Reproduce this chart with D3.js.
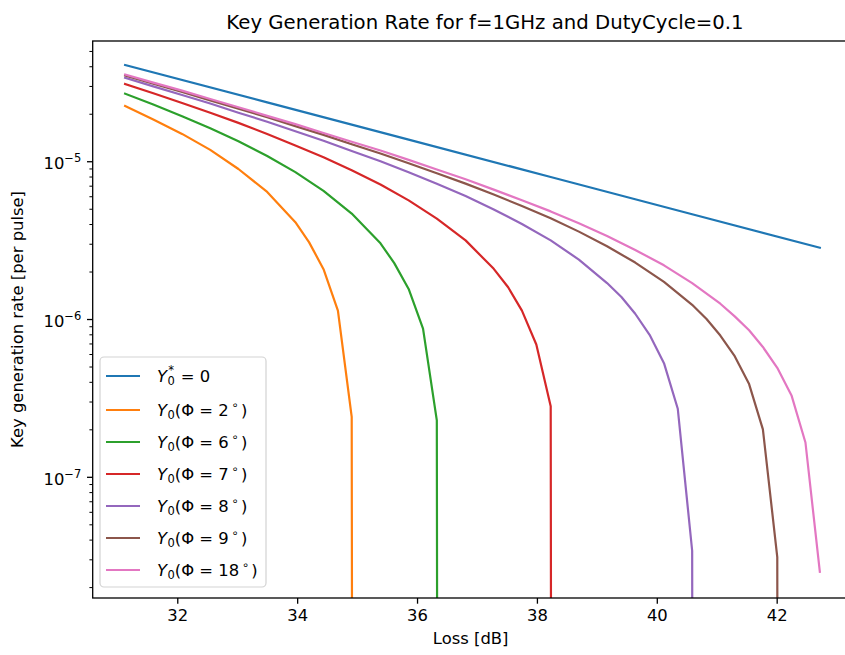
<!DOCTYPE html>
<html>
<head>
<meta charset="utf-8">
<script src="https://cdn.jsdelivr.net/npm/d3@7"></script>
<style>
  body { margin: 0; background: #fff; }
  svg { display: block; }
  text { font-family: "DejaVu Sans", sans-serif; white-space: pre; }
</style>
</head>
<body>
<svg id="chart" width="845" height="655"></svg>
<script>
// ---- data -------------------------------------------------------------
const xTicks = [32, 34, 36, 38, 40, 42];
const yMajorTicks = [1e-7, 1e-6, 1e-5];
const yMinorTicks = [2e-8, 3e-8, 4e-8, 5e-8, 6e-8, 7e-8, 8e-8, 9e-8,
                     2e-7, 3e-7, 4e-7, 5e-7, 6e-7, 7e-7, 8e-7, 9e-7,
                     2e-6, 3e-6, 4e-6, 5e-6, 6e-6, 7e-6, 8e-6, 9e-6,
                     2e-5, 3e-5, 4e-5, 5e-5];

const seriesPhi = [null, 2, 6, 7, 8, 9, 18];
const seriesColors = ["#1f77b4", "#ff7f0e", "#2ca02c", "#d62728", "#9467bd", "#8c564b", "#e377c2"];

// Y0* = 0
const lossIdeal = [31.13, 33.50, 35.86, 38.23, 40.59, 42.72];
const rateIdeal = [4.07e-5, 2.36e-5, 1.37e-5, 7.95e-6, 4.61e-6, 2.83e-6];

// Phi = 2 deg
const lossPhi2 = [31.13, 31.60, 32.08, 32.55, 33.02, 33.50, 33.97, 34.20, 34.44, 34.68, 34.91, 35.15];
const ratePhi2 = [2.24e-5, 1.84e-5, 1.49e-5, 1.18e-5, 8.93e-6, 6.39e-6, 4.11e-6, 3.06e-6, 2.07e-6, 1.13e-6, 2.4e-7, 0];

// Phi = 6 deg
const lossPhi6 = [31.13, 31.60, 32.08, 32.55, 33.02, 33.50, 33.97, 34.44, 34.91, 35.39, 35.62, 35.86, 36.10, 36.33, 36.57];
const ratePhi6 = [2.68e-5, 2.29e-5, 1.93e-5, 1.62e-5, 1.34e-5, 1.08e-5, 8.53e-6, 6.49e-6, 4.66e-6, 3.02e-6, 2.26e-6, 1.55e-6, 8.7e-7, 2.28e-7, 0];

// Phi = 7 deg
const lossPhi7 = [31.13, 31.60, 32.08, 32.55, 33.02, 33.50, 33.97, 34.44, 34.91, 35.39, 35.86, 36.33, 36.81, 37.28, 37.52, 37.75, 37.99, 38.23, 38.46];
const ratePhi7 = [3.09e-5, 2.70e-5, 2.34e-5, 2.03e-5, 1.75e-5, 1.49e-5, 1.26e-5, 1.06e-5, 8.76e-6, 7.12e-6, 5.65e-6, 4.33e-6, 3.15e-6, 2.08e-6, 1.59e-6, 1.13e-6, 6.9e-7, 2.8e-7, 0];

// Phi = 8 deg
const lossPhi8 = [31.13, 31.60, 32.08, 32.55, 33.02, 33.50, 33.97, 34.44, 34.91, 35.39, 35.86, 36.33, 36.81, 37.28, 37.75, 38.23, 38.70, 39.17, 39.41, 39.64, 39.88, 40.12, 40.35, 40.59, 40.83];
const ratePhi8 = [3.38e-5, 2.98e-5, 2.63e-5, 2.32e-5, 2.03e-5, 1.78e-5, 1.55e-5, 1.35e-5, 1.16e-5, 9.99e-6, 8.52e-6, 7.20e-6, 6.02e-6, 4.95e-6, 4.00e-6, 3.15e-6, 2.38e-6, 1.69e-6, 1.38e-6, 1.08e-6, 7.94e-7, 5.25e-7, 2.7e-7, 3.4e-8, 0];

// Phi = 9 deg
const lossPhi9 = [31.13, 31.60, 32.08, 32.55, 33.02, 33.50, 33.97, 34.44, 34.91, 35.39, 35.86, 36.33, 36.81, 37.28, 37.75, 38.23, 38.70, 39.17, 39.64, 40.12, 40.59, 40.83, 41.06, 41.30, 41.54, 41.77, 42.01, 42.25];
const ratePhi9 = [3.49e-5, 3.10e-5, 2.75e-5, 2.43e-5, 2.15e-5, 1.90e-5, 1.67e-5, 1.47e-5, 1.28e-5, 1.12e-5, 9.72e-6, 8.40e-6, 7.21e-6, 6.15e-6, 5.20e-6, 4.35e-6, 3.58e-6, 2.89e-6, 2.28e-6, 1.72e-6, 1.23e-6, 1.00e-6, 7.86e-7, 5.81e-7, 3.87e-7, 2.0e-7, 3.1e-8, 0];

// Phi = 18 deg
const lossPhi18 = [31.13, 31.60, 32.08, 32.55, 33.02, 33.50, 33.97, 34.44, 34.91, 35.39, 35.86, 36.33, 36.81, 37.28, 37.75, 38.23, 38.70, 39.17, 39.64, 40.12, 40.59, 41.06, 41.30, 41.54, 41.77, 42.01, 42.25, 42.48, 42.72];
const ratePhi18 = [3.54e-5, 3.15e-5, 2.80e-5, 2.48e-5, 2.20e-5, 1.94e-5, 1.72e-5, 1.51e-5, 1.33e-5, 1.17e-5, 1.02e-5, 8.86e-6, 7.68e-6, 6.61e-6, 5.66e-6, 4.81e-6, 4.04e-6, 3.36e-6, 2.74e-6, 2.19e-6, 1.69e-6, 1.25e-6, 1.04e-6, 8.48e-7, 6.65e-7, 4.91e-7, 3.26e-7, 1.65e-7, 2.5e-8];

const seriesLoss = [lossIdeal, lossPhi2, lossPhi6, lossPhi7, lossPhi8, lossPhi9, lossPhi18];
const seriesRate = [rateIdeal, ratePhi2, ratePhi6, ratePhi7, ratePhi8, ratePhi9, ratePhi18];

// ---- layout -----------------------------------------------------------
const plotLeft = 92.7, plotTop = 41;
const W = 761.9, H = 557;
const FS = 16.4, FS_SMALL = 11.5;

const svg = d3.select("#chart");
const g = svg.append("g").attr("transform", `translate(${plotLeft},${plotTop})`);

const x = d3.scaleLinear().domain([30.589, 43.30]).range([0, W]);
const y = d3.scaleLog().domain([1.706e-8, 5.781e-5]).range([H, 0]);

// non-positive rates fall off the bottom of a log axis
const yPos = v => (v > 0 ? y(v) : H + 1e4);

svg.append("defs").append("clipPath").attr("id", "plot-clip")
  .append("rect").attr("width", W).attr("height", H);

// ---- curves -----------------------------------------------------------
const line = d3.line().x(d => x(d[0])).y(d => yPos(d[1]));
const curves = g.append("g").attr("clip-path", "url(#plot-clip)");
seriesLoss.forEach((loss, i) => {
  const pts = loss.map((l, j) => [l, seriesRate[i][j]]);
  curves.append("path")
    .datum(pts)
    .attr("d", line)
    .attr("fill", "none")
    .attr("stroke", seriesColors[i])
    .attr("stroke-width", 2.2)
    .attr("stroke-linejoin", "round")
    .attr("stroke-linecap", "square");
});

// ---- axes -------------------------------------------------------------
const xAxis = g.append("g").attr("transform", `translate(0,${H})`)
  .call(d3.axisBottom(x).tickValues(xTicks).tickSize(5.7).tickPadding(5.7).tickFormat(d3.format("d")));
xAxis.select(".domain").remove();
xAxis.selectAll("line").attr("stroke", "#000").attr("stroke-width", 1.3);
xAxis.selectAll("text").attr("font-size", FS).attr("font-family", "DejaVu Sans").attr("fill", "#000");

const yMinor = g.append("g")
  .call(d3.axisLeft(y).tickValues(yMinorTicks).tickSize(3.3).tickFormat(() => ""));
yMinor.select(".domain").remove();
yMinor.selectAll("line").attr("stroke", "#000").attr("stroke-width", 1.0);

const yMajor = g.append("g")
  .call(d3.axisLeft(y).tickValues(yMajorTicks).tickSize(5.7).tickPadding(5.7).tickFormat(() => ""));
yMajor.select(".domain").remove();
yMajor.selectAll("line").attr("stroke", "#000").attr("stroke-width", 1.3);
yMajor.selectAll("text").each(function (d) {
  const t = d3.select(this)
    .attr("font-size", FS).attr("font-family", "DejaVu Sans").attr("fill", "#000")
    .attr("dy", "0.45em").text(null);
  const exp = Math.round(Math.log10(d));
  t.append("tspan").text("10");
  t.append("tspan").attr("font-size", FS_SMALL).attr("dy", -7).text("\u2212" + Math.abs(exp));
});

// frame
g.append("rect").attr("width", W).attr("height", H)
  .attr("fill", "none").attr("stroke", "#000").attr("stroke-width", 1.3);

// ---- labels -----------------------------------------------------------
svg.append("text")
  .attr("x", 485).attr("y", 29)
  .attr("text-anchor", "middle").attr("font-size", 19.7).attr("fill", "#000")
  .text("Key Generation Rate for f=1GHz and DutyCycle=0.1");

svg.append("text")
  .attr("x", plotLeft + W / 2 - 3).attr("y", 644)
  .attr("text-anchor", "middle").attr("font-size", FS).attr("fill", "#000")
  .text("Loss [dB]");

svg.append("text")
  .attr("transform", `translate(23,${plotTop + H / 2}) rotate(-90)`)
  .attr("text-anchor", "middle").attr("font-size", FS).attr("fill", "#000")
  .text("Key generation rate [per pulse]");

// ---- legend -----------------------------------------------------------
const legend = svg.append("g");
legend.append("rect")
  .attr("x", 100).attr("y", 357).attr("width", 166).attr("height", 230)
  .attr("rx", 4).attr("ry", 4)
  .attr("fill", "#fff").attr("fill-opacity", 0.8)
  .attr("stroke", "#d3d3d3").attr("stroke-width", 1.2);

seriesPhi.forEach((phi, i) => {
  const rowY = i === 0 ? 376 : 410 + 32 * (i - 1);
  legend.append("line")
    .attr("x1", 106).attr("x2", 140).attr("y1", rowY).attr("y2", rowY)
    .attr("stroke", seriesColors[i]).attr("stroke-width", 2.2);
  const t = legend.append("text")
    .attr("x", 157).attr("y", rowY + 5.5)
    .attr("font-size", FS).attr("fill", "#000");
  t.append("tspan").attr("font-style", "italic").text("Y");
  t.append("tspan").attr("font-size", FS_SMALL).attr("dy", 3.5).attr("dx", 0.5).text("0");
  if (phi === null) {
    // superscript star stacked over the subscript
    t.append("tspan").attr("font-size", FS_SMALL).attr("dx", -6.6).attr("dy", -11.5).text("*");
    t.append("tspan").attr("dy", 8).attr("dx", 1.6).text(" = 0");
  } else {
    t.append("tspan").attr("dy", -3.5).text("(\u03a6 = " + phi);
    t.append("tspan").attr("font-size", FS_SMALL).attr("dy", -7).attr("dx", 2.5).text("\u2218");
    t.append("tspan").attr("dy", 7).attr("dx", 2.5).text(")");
  }
});
</script>
</body>
</html>
